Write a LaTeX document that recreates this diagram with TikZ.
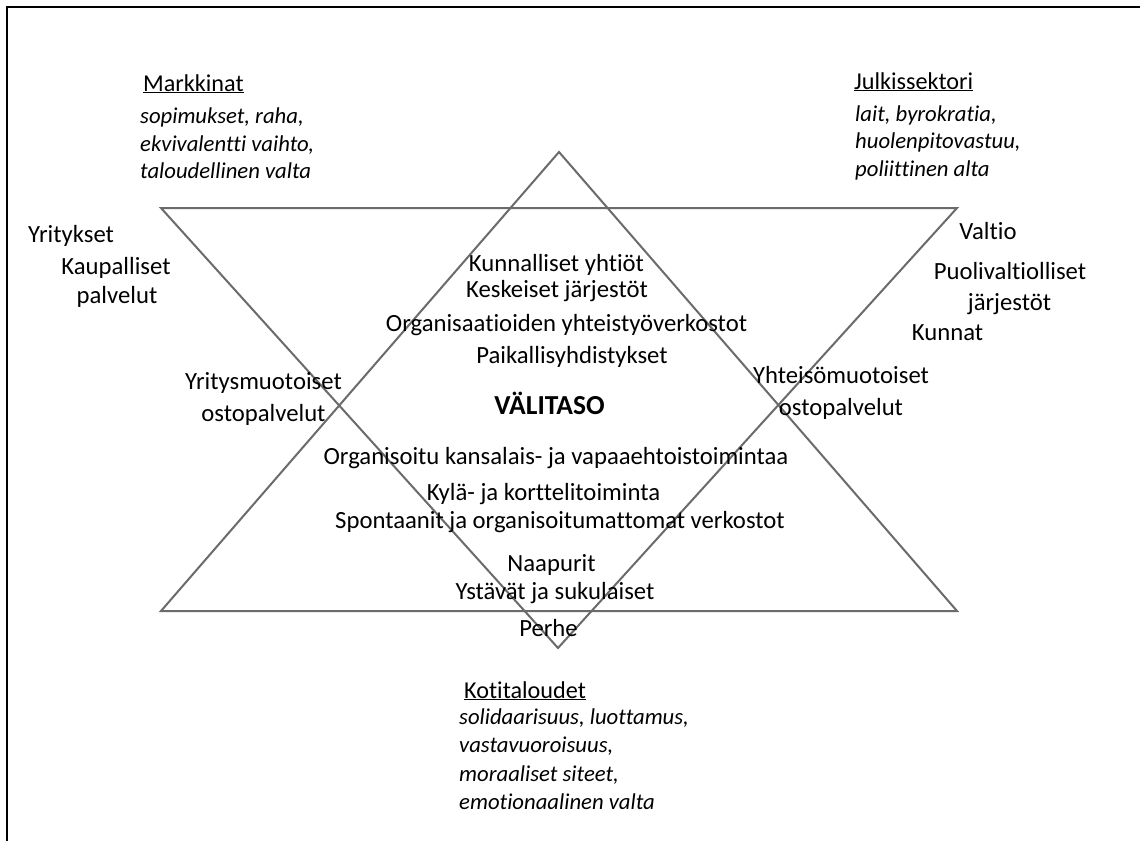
\documentclass[tikz,border=0pt]{standalone}
\usepackage{fontspec}
\setmainfont{Carlito}[Ligatures=NoCommon]
\begin{document}
\begin{tikzpicture}[x=1pt,y=-1pt,
  lbl/.style={inner sep=0pt, font=\fontsize{24.7}{28}\selectfont, anchor=mid},
  lblw/.style={inner sep=0pt, font=\fontsize{24.2}{28}\selectfont, anchor=base west},
  itl/.style={inner sep=0pt, font=\fontsize{22.7}{26}\selectfont\itshape, anchor=base west},
  tri/.style={draw=black!58, line width=2pt, line join=miter},
  frame/.style={draw=black, line width=2pt}]
\useasboundingbox (0,0) rectangle (1140,841);
\fill[white] (0,0) rectangle (1140,841);

% outer frame (top and left edges)
\coordinate (fbl) at (7,841);
\coordinate (ftl) at (7,7);
\coordinate (ftr) at (1140,7);
\draw[frame] (fbl) -- (ftl) -- (ftr);

% the two overlapping triangles
\coordinate (dl) at (161,208);
\coordinate (dr) at (957,208);
\coordinate (db) at (558,648);
\coordinate (ua) at (559,152);
\coordinate (ul) at (161,611);
\coordinate (ur) at (957,611);
\draw[tri] (dl) -- (dr) -- (db) -- cycle;
\draw[tri] (ua) -- (ur) -- (ul) -- cycle;

% sector headings with their characteristics
\node[lblw] (mk)  at (143,91)  {\underline{Markkinat}};
\node[itl]  (mk1) at (140,123) {sopimukset, raha,};
\node[itl]  (mk2) at (140,151) {ekvivalentti vaihto,};
\node[itl]  (mk3) at (140,178) {taloudellinen valta};

\node[lblw] (js)  at (854,89)  {\underline{Julkissektori}};
\node[itl]  (js1) at (855,121) {lait, byrokratia,};
\node[itl]  (js2) at (855,148) {huolenpitovastuu,};
\node[itl]  (js3) at (855,176) {poliittinen alta};

\node[lblw] (kt)  at (464,698) {\underline{Kotitaloudet}};
\node[itl]  (kt1) at (459,724) {solidaarisuus, luottamus,};
\node[itl]  (kt2) at (459,752) {vastavuoroisuus,};
\node[itl]  (kt3) at (459,781) {moraaliset siteet,};
\node[itl]  (kt4) at (459,809) {emotionaalinen valta};

% market side
\node[lbl, anchor=mid west] (yr) at (28,240) {Yritykset};
\node[lbl] (kp1) at (116,272) {Kaupalliset};
\node[lbl] (kp2) at (117,301) {palvelut};
\node[lbl] (ym1) at (263.5,387) {Yritysmuotoiset};
\node[lbl] (ym2) at (263.5,419) {ostopalvelut};

% public side
\node[lbl] (va)  at (988,237)  {Valtio};
\node[lbl] (pv1) at (1010,277) {Puolivaltiolliset};
\node[lbl] (pv2) at (1009.5,308) {järjestöt};
\node[lbl] (ku)  at (947.5,338) {Kunnat};
\node[lbl] (yh1) at (841,381)  {Yhteisömuotoiset};
\node[lbl] (yh2) at (841,413)  {ostopalvelut};

% intermediate level
\node[lbl] (c1) at (556.5,269) {Kunnalliset yhtiöt};
\node[lbl] (c2) at (557,295)   {Keskeiset järjestöt};
\node[lbl] (c3) at (566.5,329) {Organisaatioiden yhteistyöverkostot};
\node[lbl] (c4) at (572,361)   {Paikallisyhdistykset};
\node[lbl, font=\fontsize{27.5}{30}\selectfont\bfseries] (vt) at (549.5,412) {VÄLITASO};
\node[lbl] (c5) at (556,462)   {Organisoitu kansalais- ja vapaaehtoistoimintaa};
\node[lbl] (c6) at (543.5,498) {Kylä- ja korttelitoiminta};
\node[lbl] (c7) at (560,526)   {Spontaanit ja organisoitumattomat verkostot};
\node[lbl] (c8) at (551.5,569) {Naapurit};
\node[lbl] (c9) at (555,597)   {Ystävät ja sukulaiset};
\node[lbl] (c10) at (548.5,634) {Perhe};
\end{tikzpicture}
\end{document}
